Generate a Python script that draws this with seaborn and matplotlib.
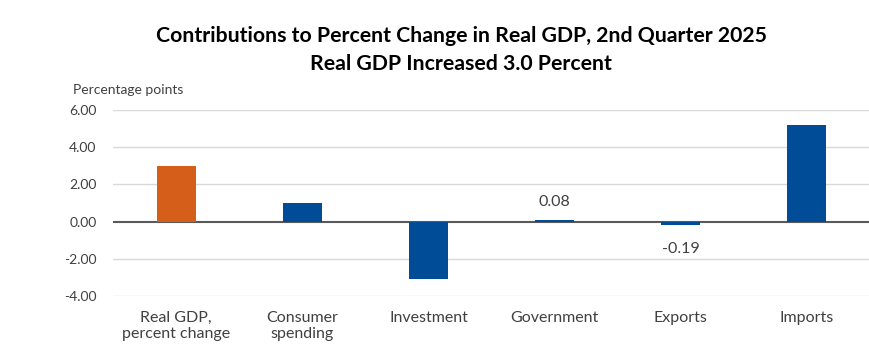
import matplotlib
matplotlib.use("Agg")
import matplotlib.pyplot as plt
import seaborn as sns
import pandas as pd

categories = ["Real GDP,\npercent change", "Consumer\nspending", "Investment",
              "Government", "Exports", "Imports"]
values = [3.0, 0.98, -3.10, 0.08, -0.19, 5.18]
labeled = [False, False, False, True, True, False]
yticks = [-4, -2, 0, 2, 4, 6]
bar_colors = ["#D55E1B", "#004C97", "#004C97", "#004C97", "#004C97", "#004C97"]

sns.set_theme(style="white")
plt.rcParams['font.family'] = ['Lato', 'DejaVu Sans']

df = pd.DataFrame({"cat": categories, "val": values})

fig = plt.figure(figsize=(8.7, 3.47), dpi=100)
ax = fig.add_axes([0.13, 0.147, 0.87, 0.536])

sns.barplot(data=df, x="cat", y="val", hue="cat", palette=bar_colors,
            legend=False, width=0.31, ax=ax, saturation=1, zorder=2, linewidth=0)

ax.set_xlim(-0.5, 5.5)
ax.set_ylim(-4, 6)
ax.set_yticks(yticks)
ax.set_yticklabels([f"{t:.2f}" for t in yticks], fontsize=10, color="#404040")
for t in yticks:
    if t != 0:
        ax.axhline(t, color="#d9d9d9", lw=1.0, zorder=0)
ax.axhline(0, color="#595959", lw=1.5, zorder=1)
for s in ax.spines.values():
    s.set_visible(False)
ax.tick_params(axis="y", length=0, pad=12)
ax.tick_params(axis="x", length=0, pad=11)
ax.set_xticks(range(len(categories)))
ax.set_xticklabels(categories, fontsize=11.5, color="#404040", va="top", linespacing=1.2)
ax.set_xlabel("")
ax.set_ylabel("")

for i, (v, lab) in enumerate(zip(values, labeled)):
    if lab:
        if v >= 0:
            ax.text(i, v + 0.6, f"{v:.2f}", ha="center", va="bottom", fontsize=11.5, color="#404040")
        else:
            ax.text(i, v - 0.9, f"{v:.2f}", ha="center", va="top", fontsize=11.5, color="#404040")

fig.text(0.53, 0.895, "Contributions to Percent Change in Real GDP, 2nd Quarter 2025",
         ha="center", va="center", fontsize=15.3, fontweight="bold", color="black")
fig.text(0.53, 0.815, "Real GDP Increased 3.0 Percent",
         ha="center", va="center", fontsize=15.3, fontweight="bold", color="black")
fig.text(0.084, 0.74, "Percentage points", ha="left", va="center", fontsize=10, color="#404040")

fig.savefig("out.png", dpi=100, facecolor="white")
